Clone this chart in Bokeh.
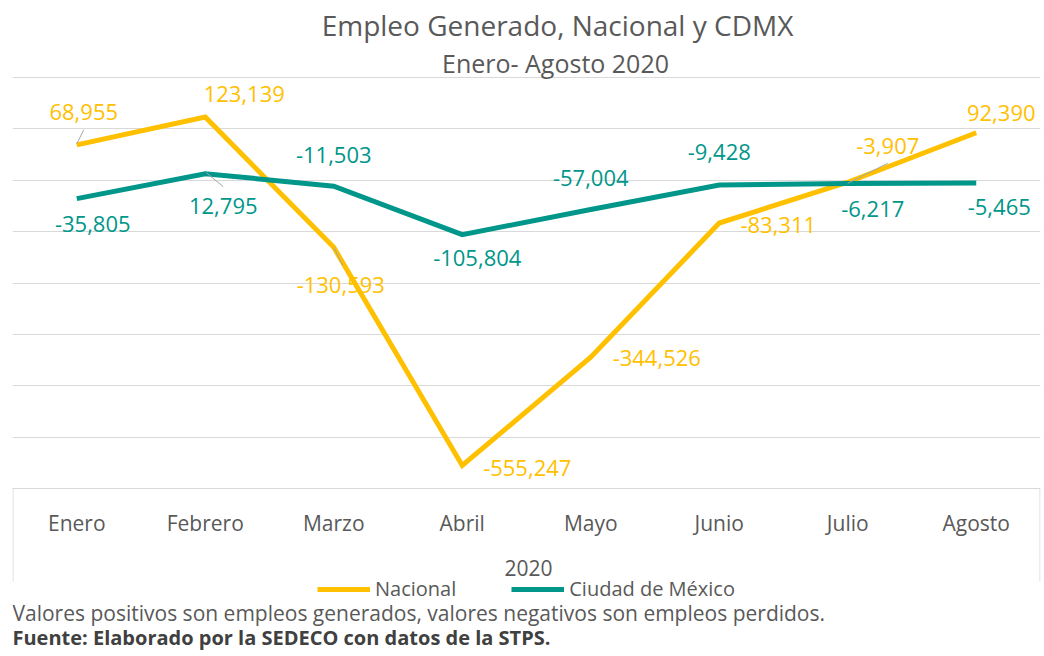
from bokeh.plotting import figure
from bokeh.models import (FactorRange, Range1d, FixedTicker, Label, Legend, LegendItem,
                          ColumnDataSource)
from bokeh.core.properties import value
from bokeh.embed import file_html
from bokeh.resources import INLINE

# ---------------- data ----------------
months = ["Enero", "Febrero", "Marzo", "Abril", "Mayo", "Junio", "Julio", "Agosto"]
nacional = [68955, 123139, -130593, -555247, -344526, -83311, -3907, 92390]
cdmx = [-35805, 12795, -11503, -105804, -57004, -9428, -6217, -5465]
grid_ticks = [-600000, -500000, -400000, -300000, -200000, -100000, 0, 100000, 200000]
series_names = ["Nacional", "Ciudad de México"]
group_label = "2020"

# label placement (pixels, y downward) -- layout only
nac_off = [(7, -33), (39, -23), (7, 38), (65, 2), (66, 1), (59, 2), (40, -36), (25, -20)]
cdmx_off = [(16, 25), (18, 32), (0, -31), (15, 23), (0, -32), (0, -33), (25, 26), (23, 24)]
# leader lines (series, index, start offset, end offset) in pixels
leaders = [("n", 0, (0, -1), (7, -15)), ("c", 1, (1, -1), (18, 13)),
           ("n", 2, (0, 0), (9, 18)), ("n", 6, (0, 1), (40, -19))]

GOLD = "#FFC000"
TEAL = "#00968A"
GREY = "#595959"
FONT = "Open Sans"

W, H = 1044, 656
FL, FR = 12, 1040            # frame left/right (page px)
G_TOP, G_BOT = 77, 488       # pixel rows of the top and bottom grid lines
gmin, gmax = grid_ticks[0], grid_ticks[-1]
pxy = (gmax - gmin) / (G_BOT - G_TOP)       # data units per pixel
y_top = gmax + G_TOP * pxy
y_bot = gmin - (H - G_BOT) * pxy

p = figure(width=W, height=H, x_range=FactorRange(*months, range_padding=0),
           y_range=Range1d(y_bot, y_top), output_backend="svg", toolbar_location=None,
           y_axis_location=None, min_border_left=FL, min_border_right=W - FR,
           min_border_top=0, min_border_bottom=0)
p.outline_line_color = None
p.background_fill_color = "white"
p.border_fill_color = "white"
p.xgrid.grid_line_color = None
p.ygrid.ticker = FixedTicker(ticks=grid_ticks)
p.ygrid.grid_line_color = "#d9d9d9"
p.ygrid.grid_line_width = 1

ax = p.xaxis[0]
ax.fixed_location = gmin
ax.axis_line_color = "#d9d9d9"
ax.major_tick_line_color = None
ax.minor_tick_line_color = None
ax.major_tick_out = 0
ax.major_tick_in = 0
ax.major_label_standoff = 20
ax.major_label_text_font = FONT
ax.major_label_text_font_size = "21px"
ax.major_label_text_color = GREY

src = ColumnDataSource(dict(m=months, n=nacional, c=cdmx,
                            nl=[f"{v:,}" for v in nacional],
                            cl=[f"{v:,}" for v in cdmx],
                            ndx=[o[0] for o in nac_off], ndy=[o[1] for o in nac_off],
                            cdx=[o[0] for o in cdmx_off], cdy=[o[1] for o in cdmx_off]))

rn = p.line("m", "n", source=src, line_color=GOLD, line_width=5, line_join="miter")
rc = p.line("m", "c", source=src, line_color=TEAL, line_width=5, line_join="miter")

# leader lines
pxx = (FR - FL) / len(months)
lx0, ly0, lx1, ly1 = [], [], [], []
for s, i, a, b in leaders:
    v = nacional[i] if s == "n" else cdmx[i]
    xc = i + 0.5
    lx0.append(xc + a[0] / pxx); ly0.append(v - a[1] * pxy)
    lx1.append(xc + b[0] / pxx); ly1.append(v - b[1] * pxy)
p.segment(lx0, ly0, lx1, ly1, line_color="#a6a6a6", line_width=1)

# box lines of the category area
edge = 0.5 / pxx
y_box = gmin - (581 - G_BOT) * pxy
p.segment([edge, len(months) - edge], [gmin, gmin], [edge, len(months) - edge],
          [y_box, y_box], line_color="#d9d9d9", line_width=1)

p.text("m", "n", text="nl", source=src, x_offset="ndx", y_offset="ndy",
       text_font=value(FONT), text_font_size="22px", text_color=GOLD,
       text_align="center", text_baseline="middle")
p.text("m", "c", text="cl", source=src, x_offset="cdx", y_offset="cdy",
       text_font=value(FONT), text_font_size="22px", text_color=TEAL,
       text_align="center", text_baseline="middle")


def sx(X):
    return X - FL


def sy(Y):
    return H - Y


def lab(text, X, Y, size, align="center", color=GREY, style="normal"):
    p.add_layout(Label(x=sx(X), y=sy(Y), x_units="screen", y_units="screen", text=text,
                       text_font=FONT, text_font_size=size, text_color=color,
                       text_align=align, text_baseline="middle", text_font_style=style))


lab("Empleo Generado, Nacional y CDMX", 557, 24, "28px")
lab("Enero- Agosto 2020", 555, 62, "25px")
lab(group_label, 528, 567, "21px")
lab("Valores positivos son empleos generados, valores negativos son empleos perdidos.",
    FL, 612, "21px", align="left")
lab("Fuente: Elaborado por la SEDECO con datos de la STPS.", FL, 637, "20px",
    align="left", color="#404040", style="bold")

legend = Legend(items=[LegendItem(label=series_names[0], renderers=[rn]),
                       LegendItem(label=series_names[1], renderers=[rc])],
                orientation="horizontal", location=(sx(317), sy(602)),
                glyph_width=53, glyph_height=20, label_standoff=5, spacing=55,
                padding=0, margin=0, border_line_color=None, background_fill_alpha=0,
                label_text_font=FONT, label_text_font_size="20px", label_text_color=GREY)
p.add_layout(legend)

open("out.html", "w").write(file_html(p, INLINE))
